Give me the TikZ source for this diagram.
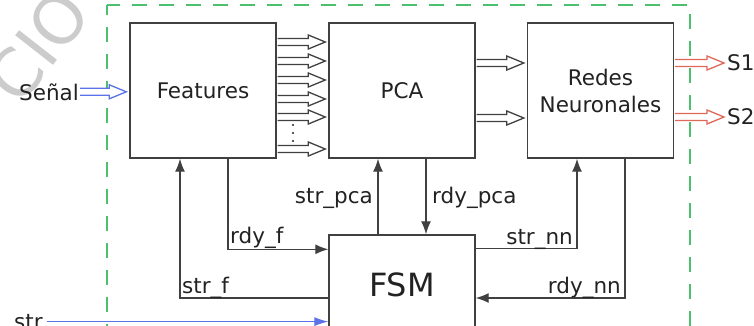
\documentclass[tikz,border=0pt]{standalone}
\usepackage{fontspec}
\setmainfont{DejaVu Sans}
\usepackage{tikz}
\usetikzlibrary{arrows.meta, calc}
\definecolor{boxgray}{HTML}{404040}
\definecolor{txtgray}{HTML}{222222}
\definecolor{framegreen}{HTML}{4CC06E}
\definecolor{sigblue}{HTML}{5B72E8}
\definecolor{sigred}{HTML}{E0685A}
\definecolor{markgray}{HTML}{CCCCCC}

\newcommand{\busarrow}[3][boxgray]{%
  \draw[#1, line width=1.3pt, fill=white] let \p1=#2, \p2=#3 in
    (\x1+1pt,\y1+3.5pt) -- (\x2-20pt,\y1+3.5pt) -- (\x2-20pt,\y1+7pt) -- (\x2-3pt,\y1)
    -- (\x2-20pt,\y1-7pt) -- (\x2-20pt,\y1-3.5pt) -- (\x1+1pt,\y1-3.5pt);}

\begin{document}
\begin{tikzpicture}[x=1pt, y=-1pt,
  block/.style={draw=boxgray, line width=1.4pt, minimum width=146pt, minimum height=135pt,
    inner sep=0pt, font=\fontsize{21.5}{27}\selectfont, text=txtgray},
  sig/.style={draw=boxgray, line width=1.3pt, -{Latex[length=13pt,width=10pt]}},
  lbl/.style={font=\fontsize{21.5}{26}\selectfont, text=txtgray, inner sep=0pt},
  zone/.style={draw=framegreen, line width=1.4pt, dash pattern=on 15pt off 12pt}]
\useasboundingbox (0,0) rectangle (754,325);
\clip (0,0) rectangle (754,325);

\node[rotate=52, text=markgray, font=\fontsize{66}{66}\selectfont] (mark) at (38,46) {CIO};

\draw[zone, dash phase=2pt] (107,5) -- (690,5) -- (690,330);
\draw[zone, dash phase=5pt] (107,5) -- (107,330);

\node[block] (feat) at (203,90.5) {Features};
\node[block] (pca) at (402,90.5) {PCA};
\node[block, align=center] (nn) at (600.5,90.5) {Redes\\Neuronales};
\node[block, minimum height=100pt, font=\fontsize{32}{38}\selectfont] (fsm) at (402,285) {FSM};

\node[lbl, anchor=base west] (senal) at (19,100) {Señal};
\node[lbl, anchor=west] (s1) at (727,63) {S1};
\node[lbl, anchor=west] (s2) at (727,117) {S2};
\node[lbl, anchor=base west] (strin) at (14,329) {str};

\busarrow[sigblue]{(senal.east)}{(feat.west |- senal.east)}
\foreach \h in {42,61,80,99,117,149}{
  \busarrow{(feat.east |- 0,\h)}{(pca.west |- 0,\h)}
}
\foreach \h in {125,133,141}{
  \fill[txtgray] (293,\h) circle (1.2pt);
}
\foreach \h in {63,118}{
  \busarrow{(pca.east |- 0,\h)}{(nn.west |- 0,\h)}
}
\busarrow[sigred]{(nn.east |- s1.west)}{(s1.west)}
\busarrow[sigred]{(nn.east |- s2.west)}{(s2.west)}

\draw[sig] ($(fsm.west)+(0,13)$) -| (feat.south -| 180,0);
\node[lbl, anchor=base west] (strf) at (182,293) {str\_f};
\draw[sig] (feat.south -| 228,0) |- ($(fsm.north west)+(0,15)$);
\node[lbl, anchor=base west] (rdyf) at (230,243) {rdy\_f};
\draw[sig] (fsm.north -| 378,0) -- (pca.south -| 378,0);
\node[lbl, anchor=base east] (strpca) at (373,203) {str\_pca};
\draw[sig] (pca.south -| 426,0) -- (fsm.north -| 426,0);
\node[lbl, anchor=base west] (rdypca) at (432,203) {rdy\_pca};
\draw[sig] ($(fsm.north east)+(0,14)$) -| (nn.south -| 577,0);
\node[lbl, anchor=base east] (strnn) at (573,244) {str\_nn};
\draw[sig] (nn.south -| 625,0) |- ($(fsm.east)+(0,13)$);
\node[lbl, anchor=base east] (rdynn) at (621,293) {rdy\_nn};
\draw[sigblue, line width=1pt, shorten <=4pt, -{Latex[length=14pt,width=9pt]}] (strin.east) -- (fsm.west |- strin.east);
\end{tikzpicture}
\end{document}
